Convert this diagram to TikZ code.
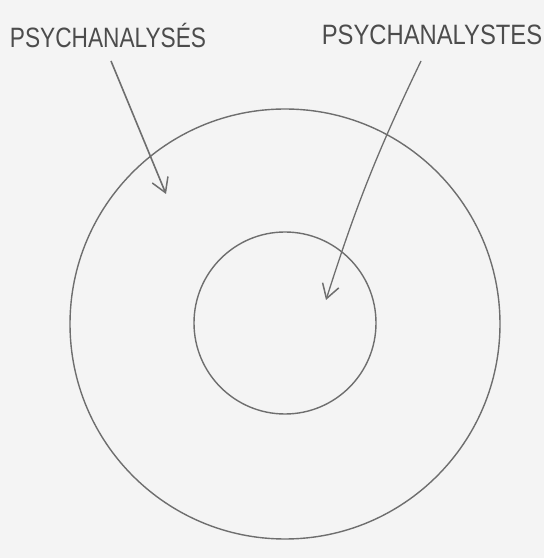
\documentclass[tikz,border=0pt]{standalone}
\usepackage{fontspec}
\setmainfont{Liberation Sans}
\usetikzlibrary{arrows.meta}
\definecolor{paper}{HTML}{F4F4F4}
\definecolor{ink}{HTML}{6E6E6E}
\definecolor{pen}{HTML}{4C4C4C}
\begin{document}
\begin{tikzpicture}[x=1pt, y=1pt,
  lbl/.style={font=\fontsize{28}{28}\selectfont, text=pen, inner sep=0pt},
  ring/.style={circle, draw=ink, line width=1.4pt, inner sep=0pt},
  pointer/.style={draw=ink, line width=1.3pt,
    -{Straight Barb[length=14pt, width=17pt, line width=1.5pt]}},
]

% Paper
\useasboundingbox (0,0) rectangle (544,558);
\fill[paper] (0,0) rectangle (544,558);

% Labels
\node[lbl, xscale=0.81] (analyses) at (108, 523) {PSYCHANALYSÉS};
\node[lbl, xscale=0.85] (analystes) at (432, 523) {PSYCHANALYSTES};

% Rings
\node[ring, minimum size=430] (outer) at (285, 234) {};
\node[ring, minimum size=182] (inner) at (285, 235) {};

% Arrow ends
\coordinate (fromA) at (111, 497);
\coordinate (toA) at (166, 364);
\coordinate (fromB) at (421, 497);
\coordinate (toB) at (326, 258);

% Arrows
\draw[pointer, line width=1.6pt] (fromA) -- (toA);
\draw[pointer] (fromB) to[bend right=4] (toB);

\end{tikzpicture}
\end{document}
